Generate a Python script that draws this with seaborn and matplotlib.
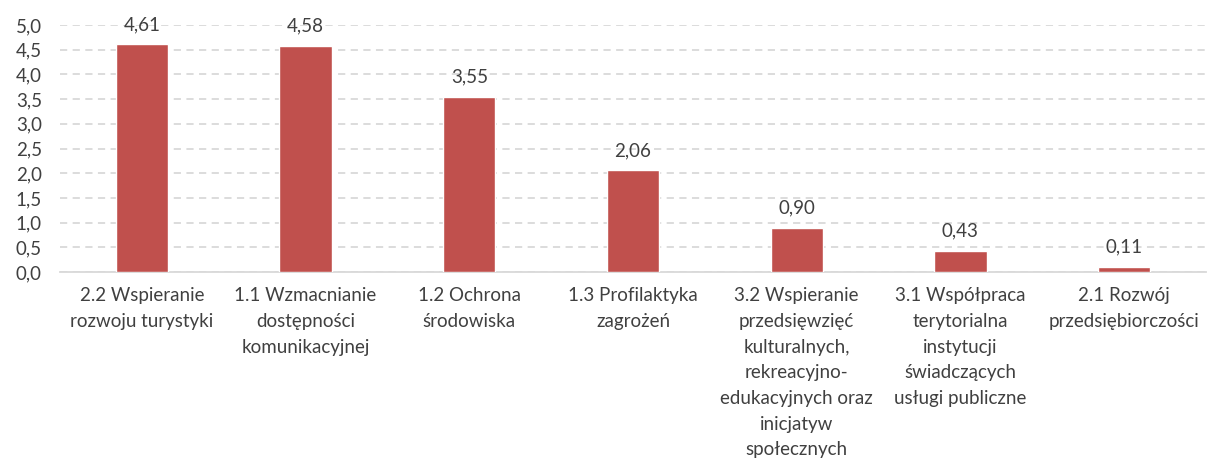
import matplotlib
matplotlib.use("Agg")
import matplotlib.pyplot as plt
import seaborn as sns
import pandas as pd
from matplotlib.ticker import FuncFormatter, MultipleLocator

categories = [
    "2.2 Wspieranie\nrozwoju turystyki",
    "1.1 Wzmacnianie\ndostępności\nkomunikacyjnej",
    "1.2 Ochrona\nśrodowiska",
    "1.3 Profilaktyka\nzagrożeń",
    "3.2 Wspieranie\nprzedsięwzięć\nkulturalnych,\nrekreacyjno-\nedukacyjnych oraz\ninicjatyw\nspołecznych",
    "3.1 Współpraca\nterytorialna\ninstytucji\nświadczących\nusługi publiczne",
    "2.1 Rozwój\nprzedsiębiorczości",
]
values = [4.61, 4.58, 3.55, 2.06, 0.90, 0.43, 0.11]
value_labels = ["4,61", "4,58", "3,55", "2,06", "0,90", "0,43", "0,11"]

df = pd.DataFrame({"kategoria": categories, "wartosc": values})

sns.set_theme(style="white")
plt.rcParams["font.family"] = ["Lato", "DejaVu Sans"]

fig = plt.figure(figsize=(12.08, 4.68), dpi=100)
ax = fig.add_axes([60 / 1208, 1 - 272 / 468, 1146 / 1208, (272 - 25) / 468])

sns.barplot(data=df, x="kategoria", y="wartosc", color="#C0504D",
            width=0.32, saturation=1, ax=ax)

ax.set_ylim(0, 5.0)
ax.set_xlim(-0.5, len(categories) - 0.5)
ax.yaxis.set_major_locator(MultipleLocator(0.5))
ax.yaxis.set_major_formatter(FuncFormatter(lambda v, p: f"{v:.1f}".replace(".", ",")))
ax.set_xlabel("")
ax.set_ylabel("")

ax.grid(axis="y", color="#D9D9D9", linestyle=(0, (4, 3)), linewidth=1.3)
ax.set_axisbelow(True)
for side in ["top", "right", "left"]:
    ax.spines[side].set_visible(False)
ax.spines["bottom"].set_color("#D9D9D9")
ax.spines["bottom"].set_linewidth(1.3)
ax.spines["bottom"].set_zorder(0.5)

ax.tick_params(axis="y", labelsize=13.5, colors="#404040", length=0, pad=13)
ax.tick_params(axis="x", labelsize=13.5, colors="#404040", length=0, pad=11)
for lbl in ax.get_xticklabels():
    lbl.set_linespacing(1.62)
    lbl.set_multialignment("center")

for i, (v, t) in enumerate(zip(values, value_labels)):
    ax.annotate(t, (i, v), xytext=(0, 8), textcoords="offset points",
                ha="center", va="bottom", fontsize=13.5, color="#404040",
                annotation_clip=False)

fig.savefig("out.png", dpi=100)
